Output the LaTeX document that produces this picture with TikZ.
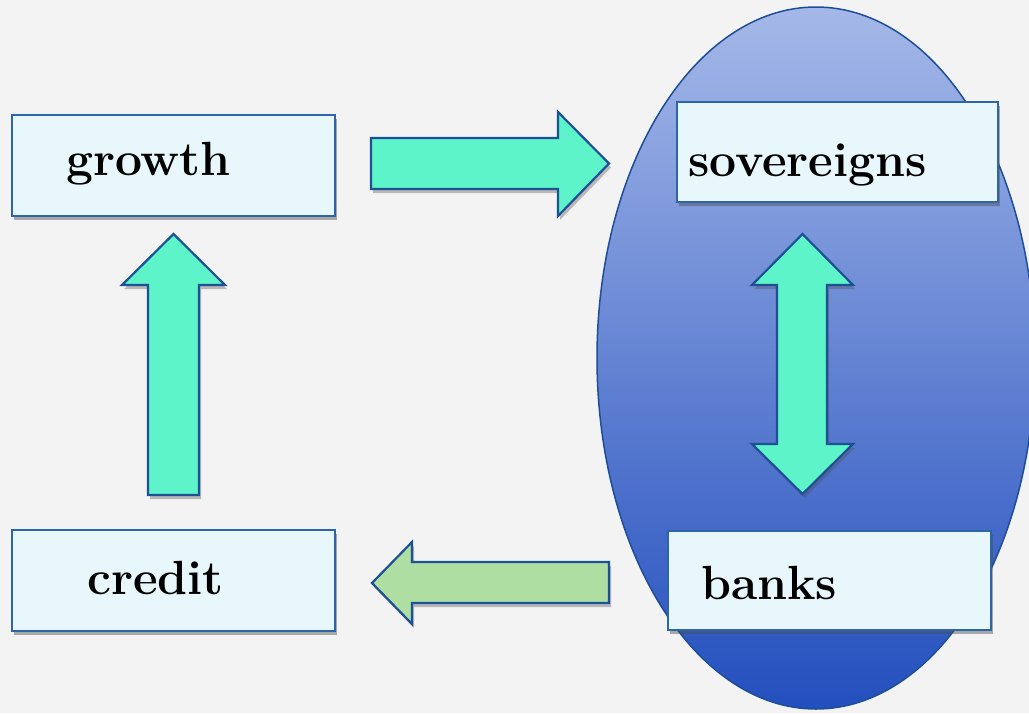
\documentclass[tikz,border=0pt]{standalone}
\usetikzlibrary{shadows}
\definecolor{bg}{HTML}{F3F3F3}
\definecolor{boxfill}{HTML}{E8F7FB}
\definecolor{boxline}{HTML}{2C66A6}
\definecolor{arrfill}{HTML}{5EF4C9}
\definecolor{greenfill}{HTML}{AEDEA2}
\definecolor{arrline}{HTML}{1E5096}
\definecolor{elltop}{HTML}{A5B8E8}
\definecolor{ellmid}{HTML}{5A80D2}
\definecolor{ellbot}{HTML}{234FBE}
\definecolor{ellline}{HTML}{1F4E98}
\tikzset{
  box/.style={draw=boxline, line width=1.6pt, fill=boxfill, minimum width=323pt, minimum height=101pt, inner sep=0pt,
    drop shadow={shadow xshift=2pt, shadow yshift=-4pt, opacity=0.45, fill=black!70}},
  lbl/.style={anchor=base west, inner sep=0pt, font=\fontsize{48}{52}\selectfont\bfseries},
  blockarrow/.style={draw=arrline, line width=2.2pt, line join=miter, fill=arrfill,
    drop shadow={shadow xshift=2pt, shadow yshift=-4pt, opacity=0.35, fill=black!70}},
}
\begin{document}
\begin{tikzpicture}[x=1pt,y=-1pt]
\fill[bg] (0,0) rectangle (1029,713);
\useasboundingbox (0,0) rectangle (1029,713);
\begin{scope}
\clip (0,0) rectangle (1029,713);
\path[draw=ellline, line width=1.5pt, top color=elltop, middle color=ellmid, bottom color=ellbot] (816,358) ellipse [x radius=219, y radius=351];
\end{scope}
% boxes
\node[box] (growth) at (173.5,165.5) {};
\node[lbl] (growthT) at (66,175) {growth};
\node[box] (credit) at (173.5,580.5) {};
\node[lbl] (creditT) at (87,594) {credit};
\node[box, minimum width=321pt, minimum height=100pt] (sov) at (837.5,152) {};
\node[lbl] (sovT) at (688,176) {sovereigns};
\node[box, minimum width=323pt, minimum height=99pt] (banks) at (829.5,580.5) {};
\node[lbl] (banksT) at (701,599) {banks};
% arrows
\path[blockarrow] (371,138) -- (558,138) -- (558,112) -- (609,163.5) -- (558,216) -- (558,189) -- (371,189) -- cycle;
\path[blockarrow, fill=greenfill] (609,562) -- (412,562) -- (412,542) -- (372,583) -- (412,624) -- (412,603) -- (609,603) -- cycle;
\path[blockarrow] (148,495) -- (148,285) -- (122,285) -- (173.5,234) -- (225,285) -- (199,285) -- (199,495) -- cycle;
\path[blockarrow] (777,285) -- (752,285) -- (802.5,234) -- (853,285) -- (827,285) -- (827,444) -- (853,444) -- (802.5,494) -- (752,444) -- (777,444) -- cycle;
\end{tikzpicture}
\end{document}
